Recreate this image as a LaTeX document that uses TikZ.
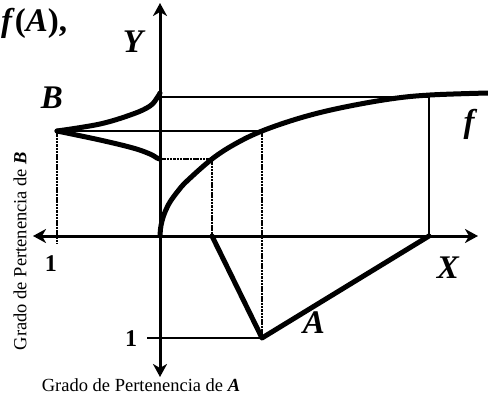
\documentclass[tikz,border=0pt]{standalone}
\usepackage{fontspec}
\setmainfont{Liberation Serif}
\usetikzlibrary{arrows.meta}
\begin{document}
\begin{tikzpicture}[x=1pt,y=-1pt,
  axtip/.tip={Stealth[length=13pt,width=14pt,inset=4pt]},
  axis/.style={line width=3pt,axtip-axtip},
  curve/.style={line width=5pt,line cap=round,line join=round},
  thinl/.style={line width=2.6pt},
  dotl/.style={line width=2pt,dash pattern=on 2.5pt off 0.8pt},
  lab/.style={font=\fontsize{33}{33}\selectfont\bfseries\itshape,inner sep=0pt},
  one/.style={font=\fontsize{24}{24}\selectfont\bfseries,inner sep=0pt},
  captext/.style={font=\fontsize{18.5}{20}\selectfont,inner sep=0pt}]
\useasboundingbox (0,0) rectangle (488,394);
% axes
\coordinate (O) at (160,236);
\coordinate (Ytop) at (160,3);
\coordinate (Ybot) at (160,377);
\coordinate (Xl) at (33,236);
\coordinate (Xr) at (478,236);
\draw[axis] (Xl) -- (Xr);
\draw[axis] (Ybot) -- (Ytop);
% key points
\coordinate (Bt) at (57,131);
\coordinate (Bu) at (160,93);
\coordinate (Bl) at (160,159);
\coordinate (H0) at (160,97);
\coordinate (P1) at (212,159);
\coordinate (P2) at (262,131);
\coordinate (P3) at (429,97);
\coordinate (Fend) at (488,93);
\coordinate (A0) at (212,236);
\coordinate (A1) at (262,338);
\coordinate (A2) at (429,236);
\coordinate (Xb) at (57,244);
\coordinate (T1) at (147,338);
% thin lines
\draw[thinl] (H0) -- (P3);
\draw[thinl] (Bt) -- (P2);
\draw[thinl] (P3) -- (A2);
\draw[thinl] (T1) -- (A1);
\draw[dotl] (Bl) -- (P1);
\draw[dotl] (P1) -- (A0);
\draw[dotl] (P2) -- (A1);
\draw[dotl] (Bt) -- (Xb);
% membership function A
\draw[curve] (A0) -- (A1) -- (A2);
% function f
\draw[curve] plot[smooth,tension=0.6] coordinates {(O) (160.5,229) (162,221) (165,212) (170,202) (178,191) (187,181) (P1) (235,144) (P2) (300,118) (340,108) (390,99) (430,95) (Fend)};
% membership function B
\draw[curve] plot[smooth,tension=0.6] coordinates {(Bt) (100,124) (133,114) (150,106) (157,98) (Bu)};
\draw[curve] plot[smooth,tension=0.6] coordinates {(Bt) (100,140) (133,148) (150,154) (157,158) (Bl)};
% labels
\node[lab,anchor=west] (fA) at (1,23) {\textit{f}\textup{(}\textit{A}\textup{),}};
\node[lab] (Ylab) at (133,42) {Y};
\node[lab] (Blab) at (52,98) {B};
\node[lab] (flab) at (469,124) {f};
\node[lab] (Xlab) at (448,268) {X};
\node[lab] (Alab) at (314,323) {A};
\node[one] (oneL) at (51,264) {1};
\node[one] (oneB) at (131,339) {1};
\node[captext] (capA) at (141,385) {Grado de Pertenencia de \textbf{\textit{A}}};
\node[captext,rotate=90] (capB) at (20,251) {Grado de Pertenencia de \textbf{\textit{B}}};
\end{tikzpicture}
\end{document}
